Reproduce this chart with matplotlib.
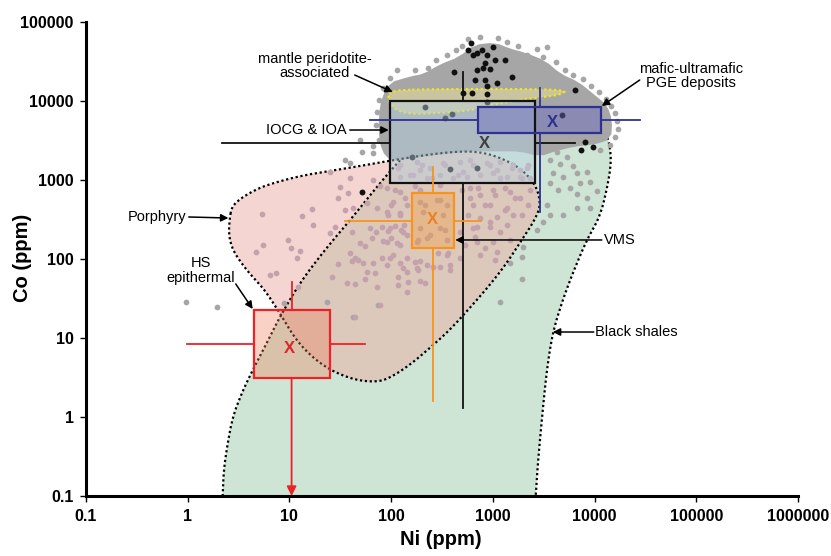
import numpy as np
import matplotlib.pyplot as plt
from matplotlib.patches import Polygon, Rectangle

plt.rcParams['font.family'] = ['Liberation Sans', 'DejaVu Sans']

# field outlines, log10 Ni (ppm) / log10 Co (ppm)
shale_ni = [0.33, 0.344, 0.354, 0.393, 0.442, 0.531, 0.639, 0.777, 0.905, 1.101, 1.347, 1.622, 1.858, 2.085,
            2.330, 2.675, 3.166, 3.658, 4.002, 4.130, 4.169, 4.120, 4.051, 3.923, 3.786, 3.687, 3.589,
            3.530, 3.481, 3.441, 3.422, 3.40]
shale_co = [-1.3, -1.0, -0.671, -0.329, 0.0, 0.304, 0.595, 0.937, 1.266, 1.696, 2.114, 2.532, 2.911, 3.253,
            3.570, 3.785, 3.886, 3.886, 3.785, 3.570, 3.253, 2.873, 2.532, 2.241, 1.823, 1.481, 1.076,
            0.595, -0.038, -0.608, -1.0, -1.3]

porph_ni = [0.413, 0.433, 0.511, 0.659, 0.806, 1.101, 1.396, 1.691, 2.085, 2.478, 2.773, 2.970, 3.166, 3.314,
            3.432, 3.471, 3.412, 3.284, 3.137, 2.970, 2.773, 2.576, 2.380, 2.183, 1.986, 1.858, 1.642,
            1.396, 1.200, 1.052, 0.905, 0.757, 0.639, 0.541, 0.442, 0.403]
porph_co = [2.519, 2.658, 2.759, 2.873, 2.949, 3.051, 3.114, 3.177, 3.266, 3.342, 3.367, 3.329, 3.228, 3.101,
            2.911, 2.684, 2.494, 2.241, 1.949, 1.671, 1.380, 1.101, 0.873, 0.658, 0.494, 0.443, 0.468,
            0.595, 0.785, 1.000, 1.316, 1.608, 1.772, 1.924, 2.114, 2.304]

mantle_ni = [1.986, 2.576, 3.265, 3.727, 3.658, 3.392, 3.166, 2.970, 2.802, 2.478, 2.153, 2.016, 1.967]
mantle_co = [4.139, 4.152, 4.152, 4.139, 4.076, 4.038, 3.987, 3.949, 3.886, 3.848, 3.835, 3.911, 4.038]

# densest part of the compilation (overlapping points)
cloud_ni = [1.917, 1.986, 2.183, 2.330, 2.478, 2.675, 2.822, 3.019, 3.166, 3.314, 3.510, 3.658, 3.835, 3.992,
            4.110, 4.159, 4.150, 4.002, 3.805, 3.609, 3.461, 3.264, 3.068, 2.773, 2.478, 2.183, 2.006,
            1.917, 1.888, 1.898]
cloud_co = [4.013, 4.215, 4.291, 4.329, 4.443, 4.544, 4.696, 4.722, 4.646, 4.595, 4.494, 4.329, 4.228, 4.063,
            3.937, 3.759, 3.532, 3.468, 3.443, 3.380, 3.316, 3.380, 3.380, 3.380, 3.342, 3.291, 3.253,
            3.380, 3.633, 3.861]

# individual analyses, log10 Ni / log10 Co
gray_ni = [2.055, 1.986, 1.917, 1.878, 1.858, 1.849, 1.878, 1.819, 1.711, 1.593, 1.544, 1.819, 1.691, 2.232,
           2.360, 2.439, 2.547, 2.635, 2.694, 2.753, 2.871, 3.048, 3.137, 3.245, 3.333, 3.432, 3.530, 3.491,
           3.618, 3.707, 3.786, 3.884, 3.963, 4.041, 4.110, 4.159, 4.199, 4.218, 4.228, 4.199, 4.150, 4.051,
           3.530, 3.628, 3.727, 3.560, 3.658, 3.786, 3.589, 3.687, 3.825, 3.923, 3.560, 3.854, 3.953, 4.022,
           3.638, 3.756, 3.825, 3.923, 3.530, 3.560, 3.687, 3.825, 3.953, 3.491, 3.432, 3.294, 3.284, 3.166,
           3.284, 3.068, -0.020, 0.285, 0.944, 1.367, 1.622, 1.868]
gray_co = [4.392, 4.291, 4.165, 4.013, 3.861, 3.696, 3.506, 3.430, 3.354, 3.215, 3.253, 3.342, 3.506, 4.392,
           4.418, 4.519, 4.582, 4.646, 4.696, 4.785, 4.810, 4.797, 4.747, 4.696, 4.582, 4.658, 4.684, 4.557,
           4.494, 4.392, 4.329, 4.278, 4.190, 4.114, 4.025, 3.937, 3.848, 3.747, 3.646, 3.544, 3.443, 3.380,
           3.418, 3.354, 3.291, 3.253, 3.203, 3.177, 3.089, 3.038, 3.089, 3.101, 2.962, 2.962, 2.975, 2.861,
           2.873, 2.899, 2.823, 2.772, 2.684, 2.557, 2.557, 2.646, 2.646, 2.468, 2.367, 2.152, 2.025, 1.949,
           1.747, 1.456, 1.456, 1.392, 1.443, 1.456, 1.266, 1.418]

mauve_ni = [0.728, 1.121, 1.219, 1.229, 0.983, 1.013, 0.737, 0.669, 1.101, 1.072, 0.806, 0.865, 1.082, 1.495,
            1.573, 1.475, 1.544, 1.445, 1.396, 1.396, 1.593, 1.819, 1.888, 1.760, 1.622, 1.858,
            1.613, 1.593, 1.642, 1.475, 1.416, 1.563, 1.691, 1.740, 1.613, 1.672, 1.721, 1.819, 1.908, 1.986,
            2.085, 1.760, 1.839, 1.740, 1.642, 1.858, 2.065, 2.153, 2.065, 2.163, 2.153, 2.281, 2.330, 2.232,
            2.281, 2.262, 2.350, 2.409, 2.478, 2.576, 2.557, 2.458, 2.822, 2.842, 1.888, 1.642,
            1.790, 1.849, 1.908, 1.967, 2.035, 2.094, 2.153, 1.996, 1.918, 2.055, 1.809, 2.124,
            2.035, 2.134, 1.996, 2.085, 1.967, 2.281, 2.330, 2.478, 2.380, 2.527, 2.262, 2.694, 2.773, 2.851,
            2.920, 3.019, 3.117, 3.215, 3.284, 2.753, 2.970, 3.068, 3.166, 2.724, 2.920, 2.675, 3.363, 3.343,
            2.675, 3.019, 2.065, 2.183, 2.301, 2.399, 2.527, 2.655, 2.773, 2.970, 3.068, 3.186, 3.284, 3.343,
            2.478, 3.117, 2.232,
            2.085, 2.252, 2.380, 2.507, 2.675, 2.802, 2.940, 3.068, 3.196, 3.333, 2.085, 2.212, 2.350, 2.478,
            2.606, 2.743, 2.871, 2.999, 3.137, 3.264, 3.363, 2.281, 2.704, 3.038, 3.264,
            1.957, 2.085, 2.016, 2.153, 1.957, 2.085, 1.986, 2.114, 1.957, 2.085, 2.016, 2.153, 1.957, 2.114,
            2.281, 2.448, 2.547, 2.311, 2.507, 2.281, 2.478, 2.350, 2.547, 2.252,
            2.773, 2.871, 2.999, 3.166, 3.264, 2.802, 2.970, 3.137, 2.871, 3.038, 3.196, 2.802, 2.970, 3.137,
            2.842, 2.999, 2.871, 3.038, 2.252, 2.547, 2.576]
mauve_co = [2.570, 2.544, 2.633, 2.430, 2.241, 2.139, 2.177, 2.089, 2.101, 2.013, 1.797, 1.823, 1.646, 2.911,
            2.835, 2.772, 2.620, 2.405, 2.329, 3.101, 3.025, 3.000, 2.924, 2.709, 2.646, 2.646,
            2.342, 2.076, 2.013, 1.937, 1.772, 1.696, 2.203, 2.165, 1.975, 1.987, 1.949, 1.949, 2.013, 2.013,
            1.949, 1.835, 1.823, 1.747, 1.684, 1.646, 1.772, 1.835, 1.671, 1.709, 1.582, 1.722, 1.696, 1.962,
            1.975, 1.861, 1.924, 1.899, 1.899, 1.861, 2.076, 2.076, 2.278, 2.405, 1.418, 1.266,
            2.392, 2.342, 2.405, 2.354, 2.418, 2.367, 2.304, 2.266, 2.228, 2.203, 2.266, 2.430,
            2.873, 2.772, 2.684, 2.582, 2.557, 2.873, 2.684, 2.747, 2.304, 2.367, 2.241, 2.873, 2.772, 2.899,
            2.684, 2.810, 2.620, 2.772, 2.557, 2.557, 2.468, 2.342, 2.241, 2.177, 2.139, 2.013, 2.873, 2.684,
            2.342, 1.987, 3.152, 3.063, 3.190, 3.025, 3.190, 3.063, 3.253, 3.190, 3.025, 3.152, 3.025, 3.190,
            2.937, 2.899, 2.924,
            3.190, 3.228, 3.152, 3.215, 3.228, 3.190, 3.215, 3.228, 3.190, 3.152, 3.038, 3.063, 3.025, 3.063,
            3.025, 3.038, 3.063, 3.089, 3.038, 3.038, 3.025, 3.127, 3.101, 3.127, 3.127,
            2.899, 2.848, 2.722, 2.684, 2.595, 2.557, 2.392, 2.342, 2.215, 2.177, 2.051, 2.013, 1.924, 1.886,
            2.722, 2.747, 2.684, 2.595, 2.557, 2.392, 2.392, 2.266, 2.241, 2.215,
            2.899, 2.810, 2.873, 2.848, 2.772, 2.684, 2.684, 2.646, 2.519, 2.532, 2.557, 2.392, 2.405, 2.430,
            2.215, 2.215, 2.051, 2.089, 1.886, 2.051, 1.924]

black_ni = [2.783, 2.753, 2.802, 2.842, 2.891, 2.940, 2.920, 2.842, 2.901, 2.970, 2.822, 2.920, 2.940, 3.038,
            2.616, 2.704, 2.793, 2.940, 2.330, 2.596, 2.527, 2.940, 2.999, 3.019, 3.117, 3.186, 3.805, 3.677,
            3.904, 3.982, 3.864, 1.711, 2.203, 2.576, 2.842]
black_co = [4.734, 4.646, 4.582, 4.608, 4.646, 4.582, 4.481, 4.392, 4.418, 4.405, 4.266, 4.266, 4.190, 4.228,
            4.367, 4.101, 4.101, 4.089, 3.924, 3.835, 3.785, 3.987, 4.684, 4.519, 4.519, 4.304, 4.139, 3.823,
            3.481, 3.418, 3.380, 2.848, 3.291, 3.139, 3.152]

# deposit-type summaries: box (25-75 %), whiskers, mean (Ni, Co in ppm)
deposits = ['IOCG & IOA', 'mafic-ultramafic', 'VMS', 'HS epithermal']
box_ni = [(97, 2580), (710, 11500), (160, 413), (4.46, 24.9)]
box_co = [(916, 10000), (3940, 8400), (138, 684), (3.12, 22.6)]
whisk_ni = [(2.16, 6390), (62, 27800), (35, 760), (0.98, 55)]
whisk_co = [(1.3, 23300), (394, 14600), (1.6, 1460), (0.1, 51)]
cross_ni = [506, 2890, 257, 10.5]
cross_co = [2940, 5740, 303, 8.4]
mean_ni = [832, 3880, 257, 10.1]
mean_co = [2940, 5420, 312, 7.3]
edge_cols = ['#111111', '#2e3192', '#f7941d', '#ec2227']
face_cols = ['#b9d3e3', '#6969c1', '#f7941d', '#f0805a']
face_alpha = [0.45, 0.45, 0.3, 0.35]
x_cols = ['#404040', '#2e3192', '#e8822a', '#d9262a']


def chaikin(xs, ys, n=2):
    p = np.column_stack([xs, ys]).astype(float)
    for _ in range(n):
        q = np.roll(p, -1, axis=0)
        out = np.empty((2 * len(p), 2))
        out[0::2] = 0.75 * p + 0.25 * q
        out[1::2] = 0.25 * p + 0.75 * q
        p = out
    return 10 ** p


fig = plt.figure(figsize=(8.31, 5.56), dpi=100)
ax = fig.add_axes([0.1035, 0.1079, 0.8568, 0.8525])
ax.set_xscale('log')
ax.set_yscale('log')
ax.set_xlim(0.1, 1e6)
ax.set_ylim(0.1, 1e5)

dots = (0, (1, 1.2))
# black shales and porphyry fields
ax.add_patch(Polygon(chaikin(shale_ni, shale_co), closed=True, facecolor='#9fcbad', alpha=0.5,
                     edgecolor='none', zorder=1))
ax.add_patch(Polygon(chaikin(porph_ni, porph_co), closed=True, facecolor='#edada5', alpha=0.5,
                     edgecolor='none', zorder=1.1))
ax.add_patch(Polygon(chaikin(shale_ni, shale_co), closed=True, fill=False, edgecolor='black',
                     lw=1.6, ls=dots, zorder=1.5))

# dense cloud of analyses
ax.add_patch(Polygon(chaikin(cloud_ni, cloud_co, 1), closed=True, facecolor='#a6a6a6',
                     edgecolor='#a6a6a6', lw=2, zorder=2))
ax.scatter(10 ** np.array(gray_ni), 10 ** np.array(gray_co), s=17, color='#a6a6a6', lw=0, zorder=2)

ax.add_patch(Polygon(chaikin(porph_ni, porph_co), closed=True, fill=False, edgecolor='black',
                     lw=1.6, ls=dots, zorder=3))
ax.add_patch(Polygon(chaikin(mantle_ni, mantle_co), closed=True, facecolor='#f3eb9a', alpha=0.45,
                     edgecolor='none', zorder=3))
ax.add_patch(Polygon(chaikin(mantle_ni, mantle_co), closed=True, fill=False, edgecolor='#f5e616',
                     lw=1.6, ls=dots, zorder=3.1))

ax.scatter(10 ** np.array(mauve_ni), 10 ** np.array(mauve_co), s=17, color='#c4a2ac', lw=0, zorder=4)
ax.scatter(10 ** np.array(black_ni), 10 ** np.array(black_co), s=18, color='#111111', lw=0, zorder=5)

# box and whisker crosses for each deposit type
for i in range(len(deposits)):
    (x0, x1), (y0, y1) = box_ni[i], box_co[i]
    ax.add_patch(Rectangle((x0, y0), x1 - x0, y1 - y0, facecolor=face_cols[i], alpha=face_alpha[i],
                           edgecolor='none', zorder=6))
    ax.add_patch(Rectangle((x0, y0), x1 - x0, y1 - y0, fill=False, edgecolor=edge_cols[i],
                           lw=1.6, zorder=6.5))
    wx, wy = whisk_ni[i], whisk_co[i]
    ax.plot([wx[0], x0], [cross_co[i]] * 2, color=edge_cols[i], lw=1.3, zorder=6.5)
    ax.plot([x1, wx[1]], [cross_co[i]] * 2, color=edge_cols[i], lw=1.3, zorder=6.5)
    ax.plot([cross_ni[i]] * 2, [y1, wy[1]], color=edge_cols[i], lw=1.3, zorder=6.5)
    if deposits[i] == 'HS epithermal':
        ax.annotate('', xy=(cross_ni[i], wy[0]), xytext=(cross_ni[i], y0), zorder=6.5,
                    arrowprops=dict(arrowstyle='-|>', color=edge_cols[i], lw=1.3,
                                    mutation_scale=14, shrinkA=0, shrinkB=0))
    else:
        ax.plot([cross_ni[i]] * 2, [wy[0], y0], color=edge_cols[i], lw=1.3, zorder=6.5)
    ax.text(mean_ni[i], mean_co[i], 'X', color=x_cols[i], fontsize=12, fontweight='bold',
            ha='center', va='center', zorder=7)

# labels with arrows: text, text anchor, arrow tail, arrow tip (log10 units)
notes = [
    ('mantle peridotite-\nassociated', (1.249, 4.443), 'center', (1.642, 4.329), (2.016, 4.114)),
    ('IOCG & IOA', (1.563, 3.633), 'right', (1.593, 3.633), (1.976, 3.633)),
    ('Porphyry', (-0.01, 2.532), 'right', (0.01, 2.532), (0.40, 2.519)),
    ('HS\nepithermal', (0.128, 1.854), 'center', (0.472, 1.684), (0.639, 1.367)),
    ('mafic-ultramafic\nPGE deposits', (4.946, 4.316), 'center', (4.444, 4.266), (4.071, 3.937)),
    ('VMS', (4.090, 2.241), 'left', (4.071, 2.241), (2.630, 2.241)),
    ('Black shales', (4.002, 1.076), 'left', (3.992, 1.076), (3.589, 1.076)),
]
for txt, pos, ha, tail, tip in notes:
    ax.text(10 ** pos[0], 10 ** pos[1], txt, ha=ha, va='center', ma='center', fontsize=10.5,
            linespacing=1.05, zorder=8)
    ax.annotate('', xy=(10 ** tip[0], 10 ** tip[1]), xytext=(10 ** tail[0], 10 ** tail[1]), zorder=8,
                arrowprops=dict(arrowstyle='-|>', color='black', lw=1.1, mutation_scale=11,
                                shrinkA=0, shrinkB=0))

ax.spines['top'].set_visible(False)
ax.spines['right'].set_visible(False)
for s in ['left', 'bottom']:
    ax.spines[s].set_linewidth(2.2)
ax.minorticks_off()
ax.set_xticks(10.0 ** np.arange(-1, 7))
ax.set_xticklabels(['0.1', '1', '10', '100', '1000', '10000', '100000', '1000000'])
ax.set_yticks(10.0 ** np.arange(-1, 6))
ax.set_yticklabels(['0.1', '1', '10', '100', '1000', '10000', '100000'])
ax.tick_params(length=4, width=1, labelsize=11.5, pad=5)
for lab in ax.get_xticklabels() + ax.get_yticklabels():
    lab.set_fontweight('bold')
ax.set_xlabel('Ni (ppm)', fontsize=14.5, fontweight='bold')
ax.set_ylabel('Co (ppm)', fontsize=14.5, fontweight='bold')
ax.xaxis.set_label_coords(0.4986, -0.072)
ax.yaxis.set_label_coords(-0.076, 0.502)

fig.savefig('out.png', dpi=100)
